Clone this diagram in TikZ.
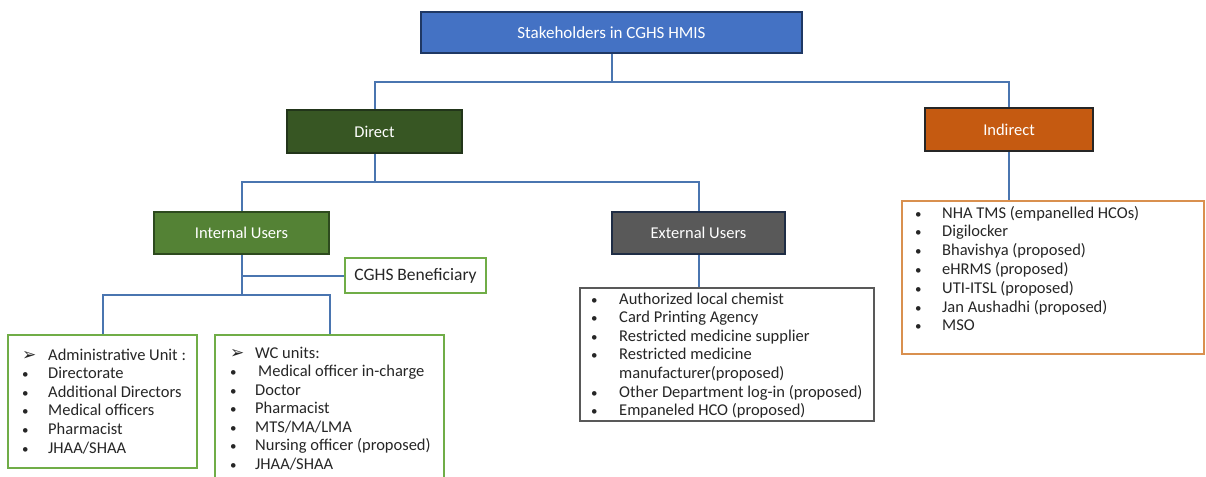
\documentclass[tikz,border=0pt]{standalone}
\usepackage{fontspec}
\setmainfont{Carlito}
\newfontfamily\dejavu{DejaVu Sans}
\definecolor{topfill}{HTML}{4472C4}
\definecolor{topdraw}{HTML}{1F3864}
\definecolor{directfill}{HTML}{375623}
\definecolor{directdraw}{HTML}{22351A}
\definecolor{internalfill}{HTML}{548235}
\definecolor{internaldraw}{HTML}{2D4A1E}
\definecolor{externalfill}{HTML}{595959}
\definecolor{externaldraw}{HTML}{1F2D45}
\definecolor{indirectfill}{HTML}{C55A11}
\definecolor{indirectdraw}{HTML}{262626}
\definecolor{connblue}{HTML}{4A75B0}
\definecolor{listgreen}{HTML}{70AD47}
\definecolor{listgrey}{HTML}{595959}
\definecolor{listorange}{HTML}{D9904F}
\definecolor{txt}{HTML}{262626}
\newcommand{\bul}[1][26pt]{\makebox[#1][l]{{\fontsize{13}{13}\selectfont •}}}
\newcommand{\arw}[1][26pt]{\makebox[#1][l]{{\dejavu\fontsize{17}{17}\selectfont ➢}}}
\begin{document}
\begin{tikzpicture}[x=1pt,y=-1pt,
  hdr/.style={draw, line width=2.4pt, text=white, inner sep=0pt,
    font=\fontsize{16.5}{18}\selectfont},
  conn/.style={draw=connblue, line width=2pt},
  lbox/.style={draw, line width=2.8pt, inner sep=0pt, fill=white},
  ltext/.style={anchor=base west, inner sep=0pt, text=txt}
]
\clip (0,0) rectangle (1206,476);
\fill[white] (0,0) rectangle (1206,476);

\coordinate (j1) at (613,82);
\coordinate (j2) at (374.5,182);
\coordinate (j3) at (241.5,295);

% header boxes
\node[hdr, fill=topfill, draw=topdraw, minimum width=381pt, minimum height=41pt,
  font=\fontsize{17}{20}\selectfont] (top) at (611.5,32.5) {Stakeholders in CGHS HMIS};
\node[hdr, fill=directfill, draw=directdraw, minimum width=175pt, minimum height=43pt] (direct) at (374.5,131.5) {Direct};
\node[hdr, fill=indirectfill, draw=indirectdraw, minimum width=168pt, minimum height=43pt] (indirect) at (1009,129.5) {Indirect};
\node[hdr, fill=internalfill, draw=internaldraw, minimum width=175pt, minimum height=42pt] (internal) at (241.5,233) {Internal Users};
\node[hdr, fill=externalfill, draw=externaldraw, minimum width=173pt, minimum height=42pt] (external) at (698.5,233) {External Users};
\node[lbox, draw=listgreen, minimum width=141pt, minimum height=35pt, text=txt,
  font=\fontsize{17.5}{20}\selectfont] (cghs) at (415.5,275.5) {CGHS Beneficiary};

% list boxes
\node[lbox, draw=listgreen, minimum width=189pt, minimum height=133pt] (leftlist) at (102.5,401.5) {};
\node[lbox, draw=listgreen, minimum width=229pt, minimum height=155pt] (rightlist) at (329.5,412.5) {};
\node[lbox, draw=listgrey, minimum width=294pt, minimum height=133pt] (extlist) at (727,354.5) {};
\node[lbox, draw=listorange, minimum width=302pt, minimum height=153pt] (indlist) at (1053,277.5) {};

% connectors
\draw[conn] (top.south) -- (top.south |- j1);
\draw[conn] (direct.north) |- (j1) -| (indirect.north);
\draw[conn] (direct.south) -- (j2);
\draw[conn] (internal.north) |- (j2) -| (external.north);
\draw[conn] (internal.south) -- (j3);
\draw[conn] (internal.south |- cghs.west) -- (cghs.west);
\draw[conn] (leftlist.north) |- (j3) -| (rightlist.north);
\draw[conn] (external.south) -- (external.south |- extlist.north);
\draw[conn] (indirect.south) -- (indirect.south |- indlist.north);

% list texts
\node[ltext] (lefttext) at (22,360) {\parbox[t]{180pt}{\fontsize{16.5}{18.6}\selectfont
  \arw{}Administrative Unit :\\
  \bul{}Directorate\\
  \bul{}Additional Directors\\
  \bul{}Medical officers\\
  \bul{}Pharmacist\\
  \bul{}JHAA/SHAA}};
\node[ltext] (righttext) at (230,358) {\parbox[t]{215pt}{\fontsize{16.5}{18.5}\selectfont
  \arw[25pt]WC units:\\
  \bul[25pt]\hspace{3pt}Medical officer in-charge\\
  \bul[25pt]Doctor\\
  \bul[25pt]Pharmacist\\
  \bul[25pt]MTS/MA/LMA\\
  \bul[25pt]Nursing officer (proposed)\\
  \bul[25pt]JHAA/SHAA}};
\node[ltext] (exttext) at (591,304) {\parbox[t]{280pt}{\fontsize{16.5}{18.6}\selectfont
  \bul[28pt]Authorized local chemist\\
  \bul[28pt]Card Printing Agency\\
  \bul[28pt]Restricted medicine supplier\\
  \bul[28pt]Restricted medicine\\
  \hspace*{28pt}manufacturer(proposed)\\
  \bul[28pt]Other Department log-in (proposed)\\
  \bul[28pt]Empaneled HCO (proposed)}};
\node[ltext] (indtext) at (915,218) {\parbox[t]{285pt}{\fontsize{16.5}{18.8}\selectfont
  \bul[27pt]NHA TMS (empanelled HCOs)\\
  \bul[27pt]Digilocker\\
  \bul[27pt]Bhavishya (proposed)\\
  \bul[27pt]eHRMS (proposed)\\
  \bul[27pt]UTI-ITSL (proposed)\\
  \bul[27pt]Jan Aushadhi (proposed)\\
  \bul[27pt]MSO}};
\end{tikzpicture}
\end{document}
